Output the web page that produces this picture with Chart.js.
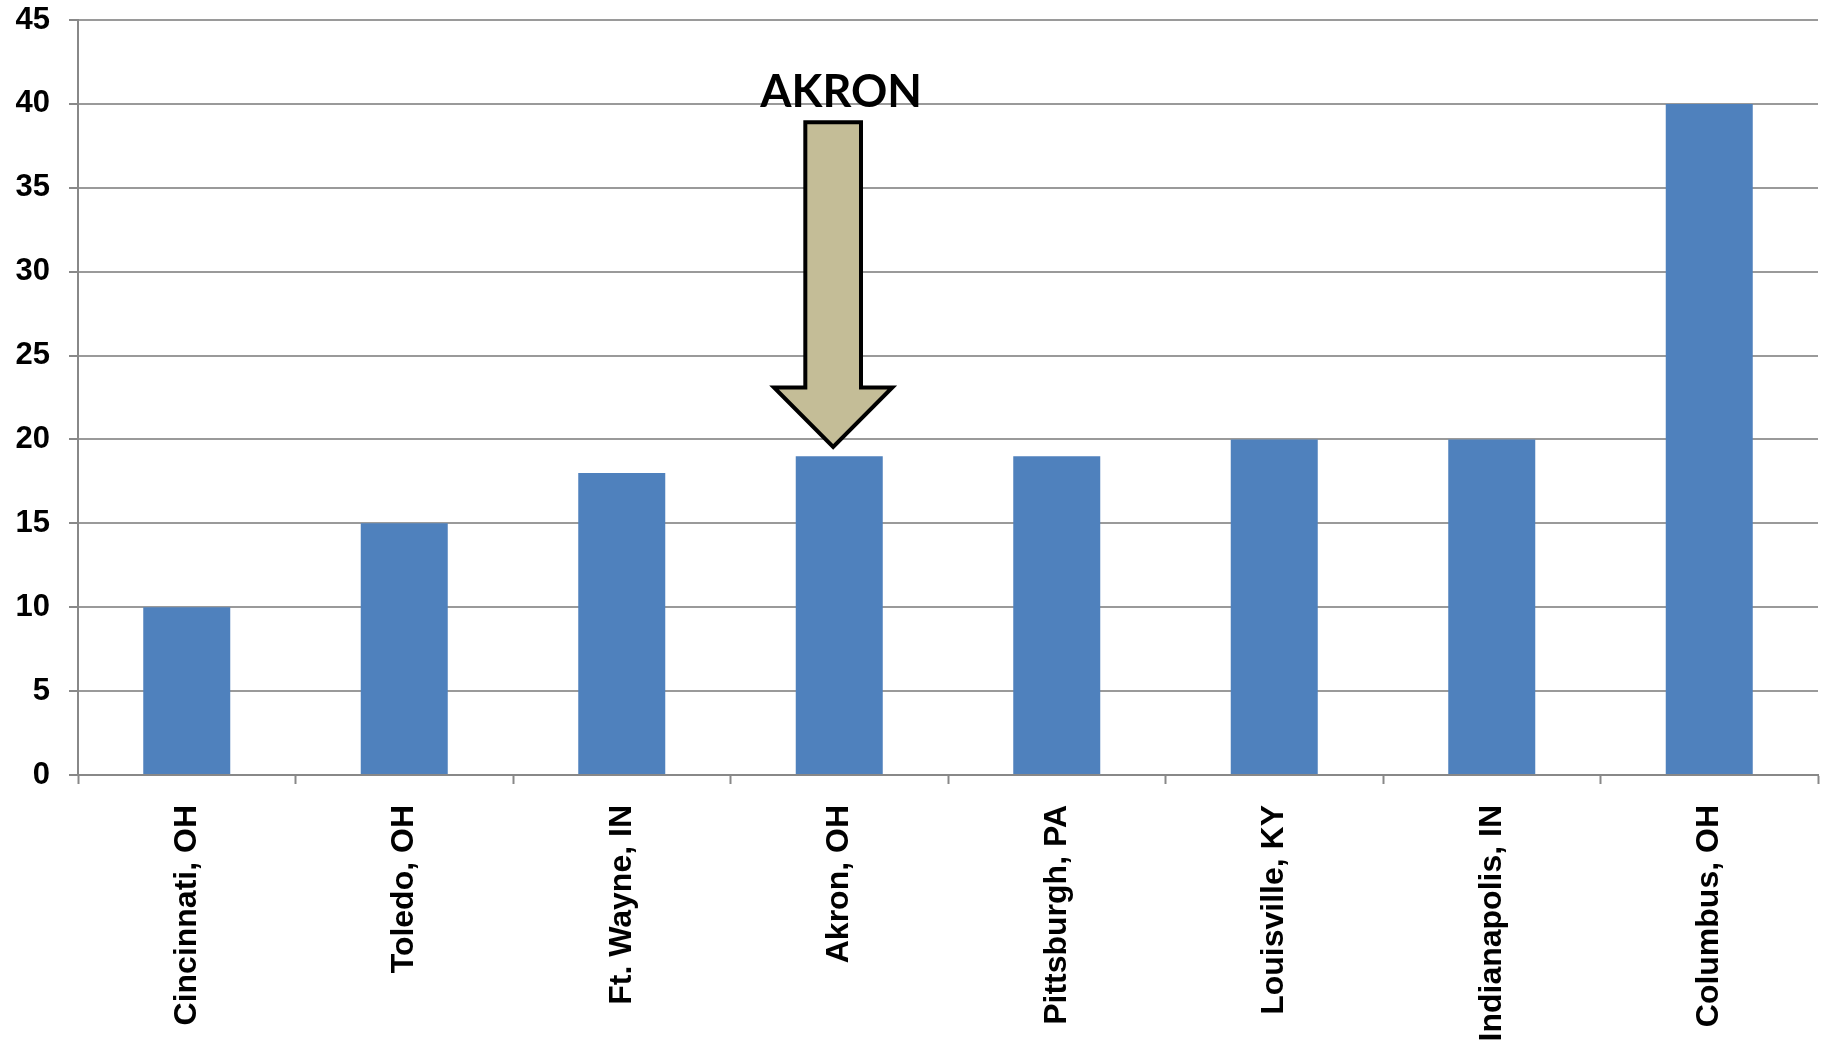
<!DOCTYPE html>
<html>
<head>
<meta charset="utf-8">
<script src="https://cdn.jsdelivr.net/npm/chart.js@4.4.1/dist/chart.umd.min.js"></script>
<style>
  html, body { margin: 0; padding: 0; background: #fff; }
  #wrap { width: 1828px; height: 1041px; position: relative; }
</style>
</head>
<body>
<div id="wrap"><canvas id="barChart"></canvas></div>
<script>
var cities = [
  "Cincinnati, OH",
  "Toledo, OH",
  "Ft. Wayne, IN",
  "Akron, OH",
  "Pittsburgh, PA",
  "Louisville, KY",
  "Indianapolis, IN",
  "Columbus, OH",
];
var counts = [10, 15, 18, 19, 19, 20, 20, 40];
var yMax = 45;
var yStep = 5;

// callout arrow pointing at one city
var calloutLabel = "AKRON";
var calloutIndex = 3;
var calloutTop = 38.9;   // top of the shaft, in axis units
var calloutHead = 23.1;  // where the head starts
var calloutTip = 19.55;  // point of the arrow
var calloutText = 39.8;  // baseline of the label

var arrowPlugin = {
  id: "arrow",
  afterDatasetsDraw: function (chart) {
    var x = chart.scales.x, y = chart.scales.y;
    var ctx = chart.ctx;
    var cw = x.getPixelForValue(1) - x.getPixelForValue(0);
    var cx = x.getPixelForValue(calloutIndex) - cw * 0.028;
    var sw = cw * 0.128, hw = cw * 0.272;
    var top = y.getPixelForValue(calloutTop);
    var head = y.getPixelForValue(calloutHead);
    var tip = y.getPixelForValue(calloutTip);
    ctx.save();
    ctx.beginPath();
    ctx.moveTo(cx - sw, top);
    ctx.lineTo(cx + sw, top);
    ctx.lineTo(cx + sw, head);
    ctx.lineTo(cx + hw, head);
    ctx.lineTo(cx, tip);
    ctx.lineTo(cx - hw, head);
    ctx.lineTo(cx - sw, head);
    ctx.closePath();
    ctx.fillStyle = "#c4bd97";
    ctx.fill();
    ctx.lineWidth = 4;
    ctx.lineJoin = "miter";
    ctx.strokeStyle = "#000";
    ctx.stroke();
    ctx.fillStyle = "#000";
    ctx.font = "bold 45px Lato";
    ctx.textAlign = "center";
    ctx.textBaseline = "alphabetic";
    ctx.fillText(calloutLabel, cx + 8, y.getPixelForValue(calloutText));
    ctx.restore();
  },
};

var ctx = document.getElementById("barChart").getContext("2d");

var MyChart = new Chart(ctx, {
  type: "bar",
  data: {
    labels: cities,
    datasets: [
      {
        data: counts,
        backgroundColor: "#4f81bd",
        borderWidth: 0,
        barPercentage: 0.4,
        categoryPercentage: 1,
      },
    ],
  },
  options: {
    responsive: true,
    maintainAspectRatio: false,
    animation: false,
    layout: { padding: { top: 20, right: 10, left: 0, bottom: 0 } },
    plugins: {
      legend: { display: false },
      tooltip: { enabled: false },
    },
    scales: {
      x: {
        afterFit: function (scale) {
          scale.height = 266;
          scale.paddingLeft = 0;
          scale.paddingRight = 0;
        },
        grid: {
          offset: true,
          drawOnChartArea: false,
          drawTicks: true,
          tickLength: 9,
          tickColor: "#888",
          tickWidth: 2,
        },
        border: { color: "#888", width: 2 },
        ticks: {
          minRotation: 90,
          maxRotation: 90,
          autoSkip: false,
          padding: 21,
          color: "#000",
          font: { family: "Liberation Sans", size: 32, weight: "bold" },
        },
      },
      y: {
        min: 0,
        max: yMax,
        afterFit: function (scale) {
          scale.width = 78;
          scale.paddingTop = 0;
          scale.paddingBottom = 0;
        },
        grid: {
          color: "#9a9a9a",
          lineWidth: 2,
          tickLength: 9,
          tickColor: "#888",
        },
        border: { color: "#888", width: 2 },
        ticks: {
          stepSize: yStep,
          padding: 19,
          color: "#000",
          font: { family: "Liberation Sans", size: 31, weight: "bold" },
        },
      },
    },
  },
  plugins: [arrowPlugin],
});
</script>
</body>
</html>
